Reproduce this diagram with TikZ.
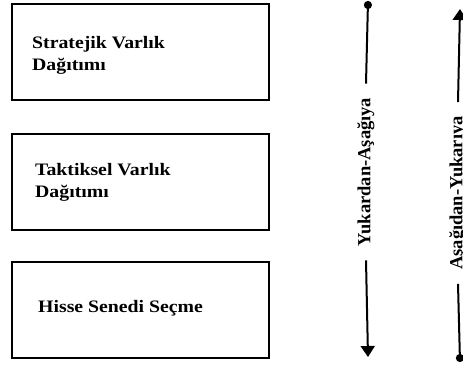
\documentclass[tikz,border=0pt]{standalone}
\usepackage{fontspec}
\setmainfont{Liberation Serif}
\newfontfamily\boxfont[FakeStretch=1.13]{Liberation Serif}
\usetikzlibrary{arrows.meta}
\begin{document}
\begin{tikzpicture}[x=1pt,y=-1pt,
  box/.style={draw=black,line width=2pt,minimum width=257pt,minimum height=96pt,inner sep=0pt},
  btext/.style={anchor=base west,inner sep=0pt,font=\boxfont\bfseries\fontsize{17.5}{21}\selectfont},
  vlab/.style={rotate=90,inner ysep=0pt,inner xsep=14pt,font=\bfseries\fontsize{18.5}{22}\selectfont},
  conn/.style={line width=2pt}]
\useasboundingbox (0,0) rectangle (463,367);
\clip (0,0) rectangle (463,367);
% boxes
\node[box] (b1) at (140.5,52) {};
\node[box] (b2) at (140.5,181.5) {};
\node[box] (b3) at (140.5,309.5) {};
\node[btext] (t1a) at (32,48) {Stratejik Varlık};
\node[btext] (t1b) at (32,70) {Dağıtımı};
\node[btext] (t2a) at (35,175) {Taktiksel Varlık};
\node[btext] (t2b) at (35,197) {Dağıtımı};
\node[btext] (t3) at (38,312) {Hisse Senedi Seçme};
% left vertical arrow
\coordinate (ldot) at (368,1);
\coordinate (ltip) at (368,357);
\node[vlab] (L) at (366,172) {Yukardan-Aşağıya};
\draw[conn,{Circle[length=8pt]}-] (ldot) -- (L.east);
\draw[conn,-{Triangle[width=14pt,length=11pt]}] (L.west) -- (ltip);
% right vertical arrow
\coordinate (rdot) at (460,362);
\coordinate (rtip) at (460,9);
\node[vlab] (R) at (458,193) {Aşağıdan-Yukarıya};
\draw[conn,{Circle[length=8pt]}-] (rdot) -- (R.west);
\draw[conn,-{Triangle[width=14pt,length=11pt]}] (R.east) -- (rtip);
\end{tikzpicture}
\end{document}
